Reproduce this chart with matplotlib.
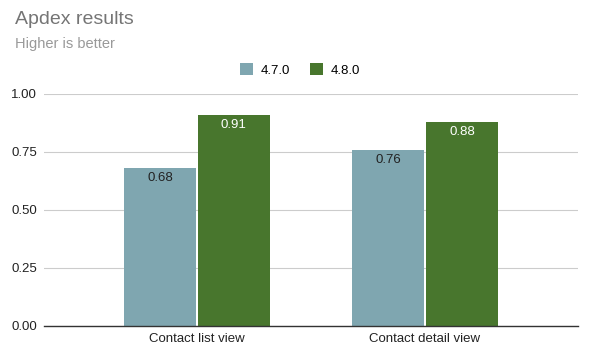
import numpy as np
import matplotlib.pyplot as plt

plt.rcParams["font.family"] = ["Liberation Sans", "DejaVu Sans"]

categories = ["Contact list view", "Contact detail view"]
v470 = [0.68, 0.76]
v480 = [0.91, 0.88]
series_names = ["4.7.0", "4.8.0"]

blue = "#7fa6b0"
green = "#48762d"

fig = plt.figure(figsize=(5.92, 3.58), dpi=100)
ax = fig.add_axes([44 / 592, 1 - 326 / 358, 534 / 592, 232 / 358])

x = np.arange(len(categories))
w = 0.316
b1 = ax.bar(x - w / 2 - 0.004, v470, w, color=blue, label=series_names[0])
b2 = ax.bar(x + w / 2 + 0.004, v480, w, color=green, label=series_names[1])

for rect, v in zip(b1, v470):
    ax.text(rect.get_x() + rect.get_width() / 2, v - 0.018, f"{v:.2f}",
            ha="center", va="top", fontsize=9.5, color="#222222")
for rect, v in zip(b2, v480):
    ax.text(rect.get_x() + rect.get_width() / 2, v - 0.018, f"{v:.2f}",
            ha="center", va="top", fontsize=9.5, color="white")

ax.set_xlim(-0.671, 1.671)
ax.set_ylim(0, 1.0)
ax.set_yticks([0, 0.25, 0.5, 0.75, 1.0])
ax.set_yticklabels(["0.00", "0.25", "0.50", "0.75", "1.00"])
ax.set_xticks(x)
ax.set_xticklabels(categories)
ax.tick_params(length=0, labelsize=9.5, colors="#222222")
ax.tick_params(axis="y", pad=5)
ax.tick_params(axis="x", pad=5)
ax.grid(axis="y", color="#cccccc", linewidth=0.8)
ax.set_axisbelow(True)
for s in ["top", "right", "left"]:
    ax.spines[s].set_visible(False)
ax.spines["bottom"].set_color("#333333")
ax.spines["bottom"].set_linewidth(1.0)
ax.spines["bottom"].set_zorder(3)

fig.text(15 / 592, 1 - 20 / 358, "Apdex results", fontsize=14, color="#757575",
         ha="left", va="center")
fig.text(15 / 592, 1 - 44 / 358, "Higher is better", fontsize=10.5, color="#999999",
         ha="left", va="center")

fig.legend(loc="center", bbox_to_anchor=(300 / 592, 1 - 70 / 358), ncol=2,
           frameon=False, fontsize=9.5, handlelength=1.0, handleheight=1.0,
           handletextpad=0.6, columnspacing=1.5)

fig.savefig("out.png", dpi=100)
